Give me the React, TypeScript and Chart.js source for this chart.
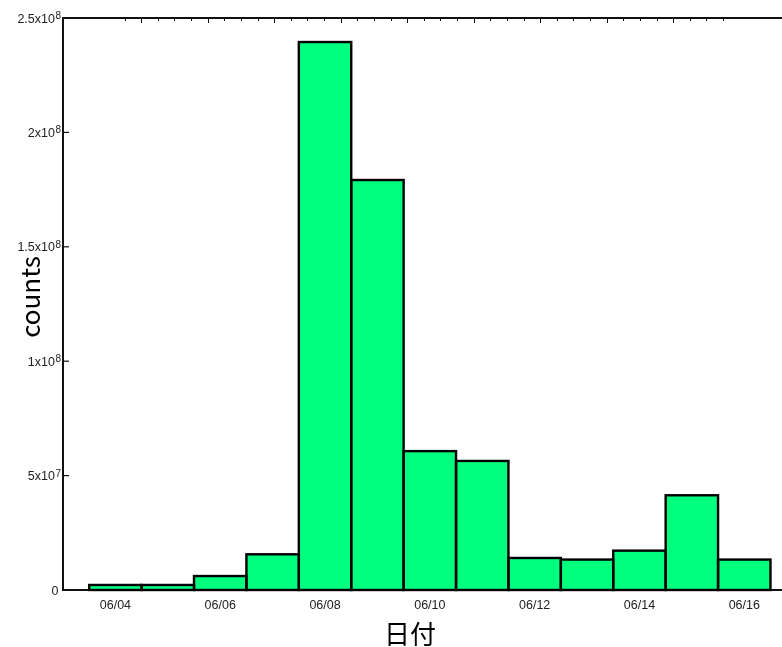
import { useEffect, useRef } from 'react';
import { Chart, registerables } from 'chart.js';

Chart.register(...registerables);

const dates = ['06/04', '06/05', '06/06', '06/07', '06/08', '06/09', '06/10', '06/11', '06/12', '06/13', '06/14', '06/15', '06/16'];
const counts = [2.2e6, 2.2e6, 6.1e6, 1.56e7, 2.395e8, 1.792e8, 6.07e7, 5.64e7, 1.4e7, 1.33e7, 1.72e7, 4.14e7, 1.33e7];
const xTickIndex = [0, 2, 4, 6, 8, 10, 12];
const yTicks = [0, 5e7, 1e8, 1.5e8, 2e8, 2.5e8];
const yTickBase = ['0', '5x10', '1x10', '1.5x10', '2x10', '2.5x10'];
const yTickExp = ['', '7', '8', '8', '8', '8'];
const yTitle = 'counts';
const xTitle = '日付';

const LABEL_FONT = '"Liberation Sans", Arial, sans-serif';
const TITLE_FONT = '"Noto Sans CJK JP", "Noto Sans", sans-serif';

const outlinePlugin = {
  id: 'barOutline',
  afterDatasetsDraw(chart: any) {
    const ctx = chart.ctx as CanvasRenderingContext2D;
    const meta = chart.getDatasetMeta(0);
    ctx.save();
    ctx.strokeStyle = '#000';
    ctx.lineWidth = 2.4;
    ctx.lineJoin = 'miter';
    meta.data.forEach((bar: any) => {
      const { x, y, base, width } = bar.getProps(['x', 'y', 'base', 'width'], true);
      ctx.strokeRect(x - width / 2, y, width, base - y);
    });
    ctx.restore();
  },
};

const axisPlugin = {
  id: 'axisDecor',
  afterDraw(chart: any) {
    const ctx = chart.ctx as CanvasRenderingContext2D;
    const area = chart.chartArea;
    const x = chart.scales.x;
    const x2 = chart.scales.x2;
    const y = chart.scales.y;
    ctx.save();
    ctx.strokeStyle = '#111';
    ctx.fillStyle = '#222';
    // top ticks
    ctx.lineWidth = 1;
    for (let k = 1; k <= Math.floor(x2.max); k++) {
      const px = Math.round(x2.getPixelForValue(k)) + 0.5;
      const len = k % 4 === 2 ? 5 : 3;
      ctx.beginPath();
      ctx.moveTo(px, area.top);
      ctx.lineTo(px, area.top + len);
      ctx.stroke();
    }
    // y ticks and labels
    yTicks.forEach((v, i) => {
      const py = y.getPixelForValue(v);
      if (i > 0 && i < yTicks.length - 1) {
        ctx.lineWidth = 1.2;
        ctx.beginPath();
        ctx.moveTo(area.left + 1, py);
        ctx.lineTo(area.left + 6, py);
        ctx.stroke();
      }
      const right = 61;
      ctx.textBaseline = 'alphabetic';
      ctx.textAlign = 'right';
      ctx.font = `10px ${LABEL_FONT}`;
      const expW = yTickExp[i] ? ctx.measureText(yTickExp[i]).width : 0;
      ctx.fillText(yTickExp[i], right, py + 1);
      ctx.font = `12.5px ${LABEL_FONT}`;
      ctx.fillText(yTickBase[i], right - expW - (expW ? 0.5 : 2.5), py + 4.5);
    });
    // x tick labels
    ctx.font = `12.5px ${LABEL_FONT}`;
    ctx.textAlign = 'center';
    ctx.textBaseline = 'middle';
    xTickIndex.forEach((idx) => {
      ctx.fillText(dates[idx], x.getPixelForValue(idx), 606);
    });
    // titles
    ctx.fillStyle = '#000';
    ctx.font = `26px ${TITLE_FONT}`;
    ctx.textAlign = 'center';
    ctx.textBaseline = 'middle';
    ctx.fillText(xTitle, 410, 634);
    ctx.save();
    ctx.translate(30, 297);
    ctx.rotate(-Math.PI / 2);
    ctx.fillText(yTitle, 0, 0);
    ctx.restore();
    ctx.restore();
  },
};

export default function App() {
  const ref = useRef<HTMLCanvasElement>(null);
  useEffect(() => {
    document.body.style.margin = '0';
    const canvas = ref.current!;
    const chart = new Chart(canvas, {
      type: 'bar',
      data: {
        datasets: [
          {
            data: counts.map((c, i) => ({ x: i, y: c })),
            backgroundColor: '#00FF7F',
            borderWidth: 0,
            barPercentage: 1,
            categoryPercentage: 1,
            xAxisID: 'x',
            yAxisID: 'y',
          },
        ],
      },
      options: {
        animation: false,
        responsive: false,
        devicePixelRatio: 1,
        layout: { padding: { left: 63, top: 18, right: 0, bottom: 57 } },
        plugins: { legend: { display: false }, tooltip: { enabled: false } },
        scales: {
          x: {
            type: 'linear',
            position: 'bottom',
            min: -1,
            max: 12.72,
            offset: false,
            ticks: { display: false },
            grid: { display: false, drawTicks: false },
            border: { display: true, color: '#111', width: 2 },
          },
          x2: {
            type: 'linear',
            position: 'top',
            min: 0,
            max: 719 / 19,
            ticks: { display: false },
            grid: { display: false, drawTicks: false },
            border: { display: true, color: '#111', width: 2 },
          },
          y: {
            type: 'linear',
            min: 0,
            max: 2.5e8,
            ticks: { display: false },
            grid: { display: false, drawTicks: false },
            border: { display: true, color: '#111', width: 2 },
          },
        },
      },
      plugins: [outlinePlugin, axisPlugin],
    });
    return () => chart.destroy();
  }, []);
  return <canvas ref={ref} width={782} height={647} style={{ display: 'block' }} />;
}
